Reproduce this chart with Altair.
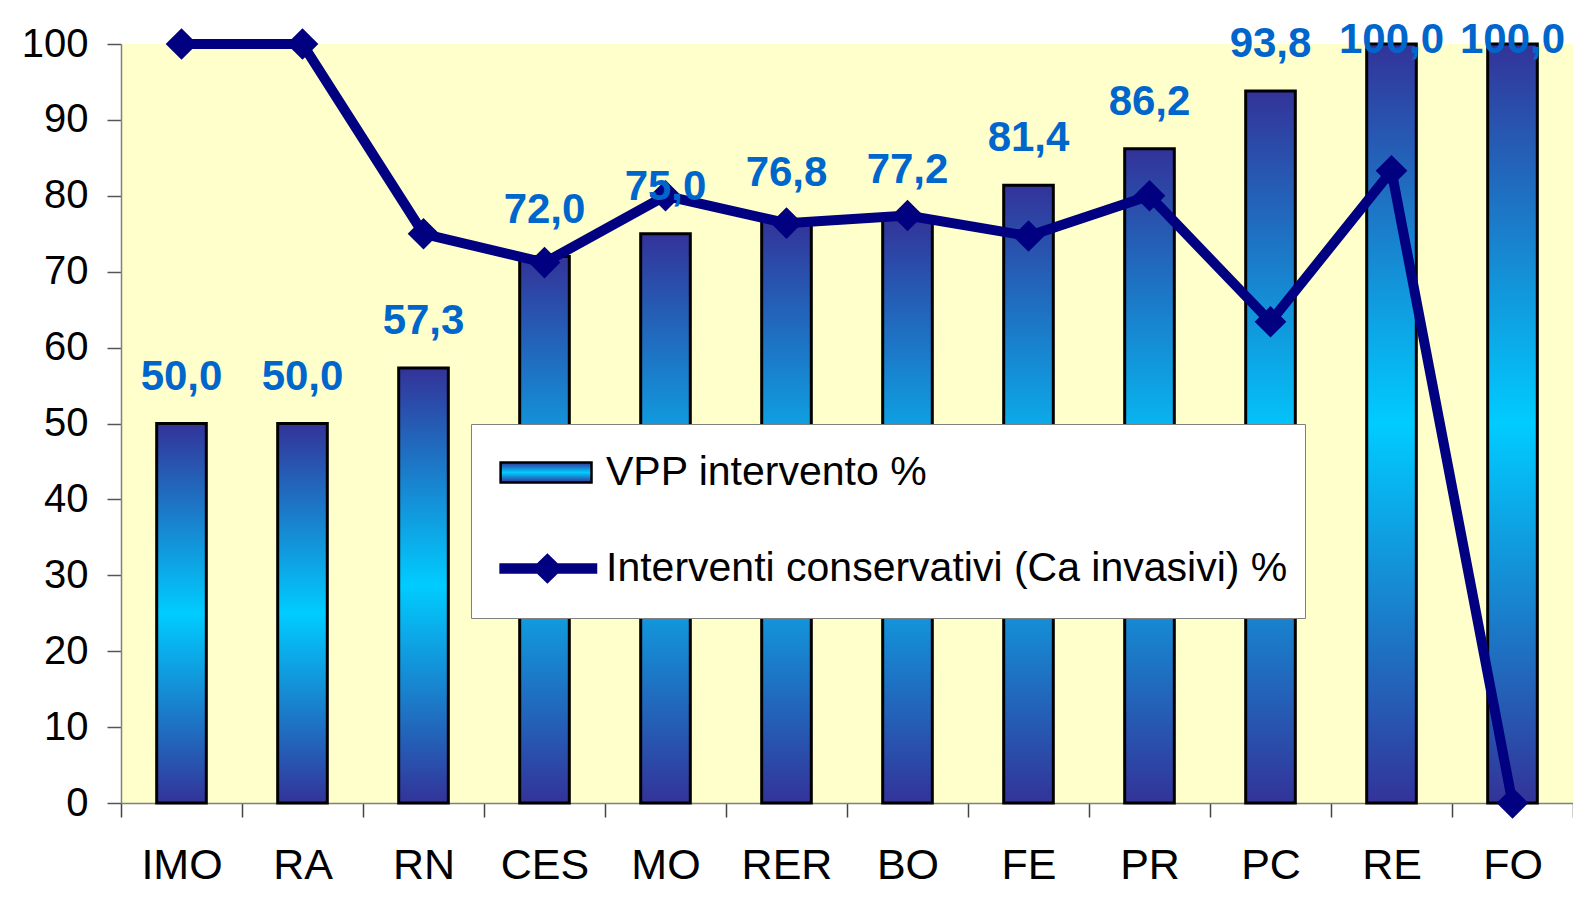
import altair as alt
import pandas as pd

categories = ["IMO", "RA", "RN", "CES", "MO", "RER", "BO", "FE", "PR", "PC", "RE", "FO"]
vpp_intervento = [50.0, 50.0, 57.3, 72.0, 75.0, 76.8, 77.2, 81.4, 86.2, 93.8, 100.0, 100.0]
conservativi = [100.0, 100.0, 75.0, 71.2, 80.0, 76.4, 77.4, 74.7, 80.0, 63.4, 83.3, 0.0]
series_names = ["VPP intervento %", "Interventi conservativi (Ca invasivi) %"]
y_ticks = [0, 10, 20, 30, 40, 50, 60, 70, 80, 90, 100]

df = pd.DataFrame({"cat": categories, "vpp": vpp_intervento, "cons": conservativi})
leg_df = pd.DataFrame({"series": series_names, "cat": [categories[0]] * 2, "v": [0, 0]})

FONT = "Liberation Sans"
NAVY = "#000080"

bar_grad = alt.LinearGradient(
    gradient="linear",
    stops=[
        alt.GradientStop(color="#333399", offset=0),
        alt.GradientStop(color="#00CCFF", offset=0.5),
        alt.GradientStop(color="#333399", offset=1),
    ],
    x1=0, x2=0, y1=0, y2=1,
)
grad_expr = ("{gradient: 'linear', x1: 0, y1: 0, x2: 0, y2: 1, stops: ["
             "{offset: 0, color: '#333399'}, {offset: 0.5, color: '#00CCFF'}, "
             "{offset: 1, color: '#333399'}]}")

x_enc = alt.X(
    "cat:N", sort=categories,
    scale=alt.Scale(paddingInner=0, paddingOuter=0),
    axis=alt.Axis(title=None, labelAngle=0, labelFont=FONT, labelFontSize=43,
                  labelColor="black", labelPadding=27, tickBand="extent",
                  tickSize=14, tickColor="#444444", tickWidth=1.5,
                  domainColor="#808080", domainWidth=1.5),
)
y_scale = alt.Scale(domain=[0, 100], nice=False, zero=True)
y_axis = alt.Axis(title=None, values=y_ticks, labelFont=FONT, labelFontSize=40,
                  labelColor="black", labelPadding=19, tickSize=14,
                  tickColor="#555555", tickWidth=1.5, domainColor="#808080",
                  domainWidth=1.5, grid=False)

bars = alt.Chart(df).mark_bar(
    color=bar_grad, stroke="black", strokeWidth=3, width={"band": 0.41}
).encode(x=x_enc, y=alt.Y("vpp:Q", scale=y_scale, axis=y_axis))

line = alt.Chart(df).mark_line(color=NAVY, strokeWidth=10).encode(
    x=alt.X("cat:N", sort=categories), y=alt.Y("cons:Q", scale=y_scale)
)
points = alt.Chart(df).mark_point(
    shape="diamond", filled=True, size=1000, color=NAVY, opacity=1
).encode(x=alt.X("cat:N", sort=categories), y=alt.Y("cons:Q", scale=y_scale))

labels = alt.Chart(df).transform_calculate(
    lab="replace(format(datum.vpp, '.1f'), '.', ',')",
    ly="min(datum.vpp, 94.3)",
).mark_text(
    font=FONT, fontSize=42, fontWeight="bold", color="#0066CC",
    dy=-34, baseline="alphabetic", align="center"
).encode(x=alt.X("cat:N", sort=categories), y=alt.Y("ly:Q", scale=y_scale), text="lab:N")

rect_path = "M-0.63,-0.33H2.4V0.33H-0.63Z"
line_path = ("M-0.63,-0.13H0.6L0.93,-0.45L1.26,-0.13H2.55V0.13H1.26L0.93,0.45"
             "L0.6,0.13H-0.63Z")

legend = alt.Legend(
    title=" ", titleOrient="bottom", titleFontSize=2, titlePadding=10,
    orient="none", legendX=350, legendY=380,
    fillColor="white", strokeColor="#808080", padding=17,
    symbolSize=3600, symbolStrokeWidth=2.5, symbolOpacity=1,
    labelFont=FONT, labelFontSize=41, labelColor="black",
    labelOffset=55, labelLimit=900, rowPadding=44,
)

legend_layer = alt.Chart(leg_df).mark_point(
    filled=True, opacity=0, strokeWidth=2.5
).encode(
    x=alt.X("cat:N", sort=categories),
    y=alt.Y("v:Q", scale=y_scale),
    fill=alt.Fill("series:N", sort=series_names,
                  scale=alt.Scale(domain=series_names,
                                  range=[alt.ExprRef(expr=grad_expr), NAVY]),
                  legend=legend),
    stroke=alt.Stroke("series:N", sort=series_names,
                      scale=alt.Scale(domain=series_names, range=["black", NAVY]),
                      legend=legend),
    shape=alt.Shape("series:N", sort=series_names,
                    scale=alt.Scale(domain=series_names, range=[rect_path, line_path]),
                    legend=legend),
)

chart = alt.layer(bars, line, points, labels, legend_layer).properties(
    width=1452, height=759,
    autosize=alt.AutoSizeParams(type="none"),
    padding={"left": 113, "top": 36, "right": 0, "bottom": 90},
    background="white",
).configure_view(fill="#FFFFCC", stroke=None)

chart.save("out.html", embed_options={"renderer": "svg", "actions": False})
